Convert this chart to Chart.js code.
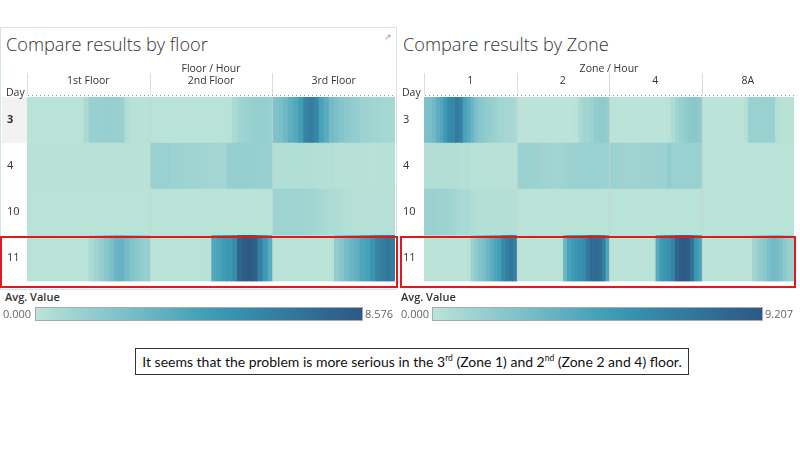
<!DOCTYPE html>
<html>
<head>
<meta charset="utf-8">
<script src="https://cdn.jsdelivr.net/npm/chart.js@4.4.1/dist/chart.umd.min.js"></script>
<style>
body{margin:0;width:800px;height:450px;background:#fff;font-family:"Open Sans",sans-serif;color:#333;position:relative;overflow:hidden}
.abs{position:absolute}
.title{font-size:18.2px;font-weight:300;color:#333;white-space:nowrap}
.legTitle{font-size:11px;font-weight:600;color:#333}
.legNum{font-size:11px;color:#666}
.ramp{height:14px;box-sizing:border-box;border:1px solid #a9a9a9}
.redbox{border:2px solid #e0191c;box-sizing:border-box}
.note{left:135px;top:348px;width:554px;height:27px;box-sizing:border-box;border:1px solid #333;font-family:Lato,sans-serif;font-size:14px;color:#111;text-align:center;line-height:25px;white-space:nowrap}
.note sup{font-size:8.5px;line-height:0}
</style>
</head>
<body>
<div class="abs" style="left:0;top:27px;width:397px;height:263px;box-sizing:border-box;border:1px solid #d3e3f0"></div>
<div class="abs" style="left:384px;top:30px;font-size:9px;color:#999">&#8599;</div>
<div class="abs title" style="left:6px;top:32px">Compare results by floor</div>
<div class="abs title" style="left:403px;top:32px">Compare results by Zone</div>

<div class="abs" style="left:0;top:60px;width:397px;height:228px"><canvas id="floorChart" width="397" height="228"></canvas></div>
<div class="abs" style="left:398px;top:60px;width:398px;height:228px"><canvas id="zoneChart" width="398" height="228"></canvas></div>

<div class="abs redbox" style="left:0;top:236px;width:398px;height:52px"></div>
<div class="abs redbox" style="left:400px;top:236px;width:396px;height:52px"></div>

<div class="abs legTitle" style="left:5px;top:289px">Avg. Value</div>
<div class="abs legNum" style="left:3px;top:306px">0.000</div>
<div class="abs ramp" id="ramp1" style="left:35px;top:307px;width:328px"></div>
<div class="abs legNum" style="left:365px;top:306px">8.576</div>

<div class="abs legTitle" style="left:401px;top:289px">Avg. Value</div>
<div class="abs legNum" style="left:401px;top:306px">0.000</div>
<div class="abs ramp" id="ramp2" style="left:432px;top:307px;width:331px"></div>
<div class="abs legNum" style="left:765px;top:306px">9.207</div>

<div class="abs note">It seems that the problem is more serious in the 3<sup>rd</sup> (Zone 1) and 2<sup>nd</sup> (Zone 2 and 4) floor.</div>

<script>
// rows and hours
const days = ['3', '4', '10', '11'];
const hours = [0,1,2,3,4,5,6,7,8,9,10,11,12,13,14,15,16,17,18,19,20,21,22,23];

// left chart: Floor / Hour
const floors = ['1st Floor', '2nd Floor', '3rd Floor'];
const floorMax = 8.576;
const floor1 = [
  [0.05,0.05,0.05,0.05,0.05,0.05,0.05,0.05,0.05,0.05,0.05,0.6,1.2,1.2,1.25,1.3,1.3,1.25,1.2,0.4,0.15,0.1,0.1,0.1],
  [0.12,0.12,0.1,0.1,0.1,0.1,0.1,0.1,0.1,0.1,0.1,0.1,0.1,0.1,0.1,0.1,0.1,0.1,0.1,0.1,0.1,0.1,0.1,0.1],
  [0.05,0.05,0.05,0.05,0.05,0.05,0.05,0.05,0.05,0.05,0.05,0.05,0.05,0.05,0.05,0.05,0.05,0.05,0.05,0.05,0.05,0.05,0.05,0.05],
  [0.05,0.05,0.05,0.05,0.05,0.05,0.05,0.05,0.05,0.05,0.05,0.05,0.6,1.0,1.4,1.9,2.4,3.0,3.1,2.6,2.1,1.8,1.5,1.3]
];
const floor2 = [
  [0.05,0.05,0.05,0.05,0.05,0.05,0.05,0.05,0.05,0.05,0.05,0.05,0.05,0.05,0.05,0.1,0.6,0.9,1.1,1.2,1.3,1.35,1.3,1.2],
  [1.2,1.2,1.15,1.15,1.1,1.1,1.05,1.0,1.0,0.95,0.9,0.85,0.85,0.8,0.85,1.3,1.35,1.35,1.3,1.3,1.3,1.25,1.25,1.2],
  [0.05,0.05,0.05,0.05,0.05,0.05,0.05,0.05,0.05,0.05,0.05,0.05,0.05,0.05,0.05,0.05,0.05,0.05,0.05,0.05,0.05,0.05,0.05,0.05],
  [0.05,0.05,0.05,0.05,0.05,0.05,0.05,0.05,0.05,0.05,0.05,0.1,3.8,4.2,4.6,4.9,5.5,7.8,8.4,8.576,8.2,6.2,4.8,3.6]
];
const floor3 = [
  [2.2,2.4,2.8,3.4,3.8,4.5,6.0,6.4,5.8,4.2,3.6,2.6,2.3,2.0,1.7,1.5,1.4,1.1,1.0,0.9,0.9,0.8,0.8,0.7],
  [0.35,0.35,0.35,0.35,0.35,0.35,0.35,0.35,0.3,0.3,0.3,0.3,0.15,0.15,0.15,0.15,0.15,0.15,0.15,0.15,0.15,0.15,0.15,0.15],
  [1.0,1.0,1.05,1.05,1.0,1.0,0.95,0.9,0.8,0.7,0.6,0.5,0.45,0.4,0.3,0.25,0.2,0.2,0.2,0.2,0.2,0.2,0.2,0.2],
  [0.05,0.05,0.05,0.05,0.05,0.05,0.05,0.05,0.05,0.05,0.05,0.1,1.5,2.0,2.6,3.0,3.3,4.0,4.3,5.0,6.0,6.3,6.8,6.5]
];

// right chart: Zone / Hour
const zones = ['1', '2', '4', '8A'];
const zoneMax = 9.207;
const zone1 = [
  [2.4,2.6,3.0,3.8,4.2,5.2,6.0,6.3,7.0,6.5,4.6,4.0,3.2,2.4,2.0,1.8,1.6,1.4,1.2,1.0,0.9,0.8,0.8,0.7],
  [0.35,0.35,0.35,0.35,0.35,0.35,0.35,0.35,0.35,0.3,0.3,0.3,0.15,0.15,0.15,0.15,0.15,0.15,0.15,0.15,0.15,0.15,0.15,0.15],
  [1.2,1.25,1.25,1.2,1.2,1.15,1.1,1.0,0.8,0.7,0.7,0.6,0.4,0.3,0.3,0.3,0.3,0.3,0.3,0.3,0.3,0.3,0.3,0.3],
  [0.05,0.05,0.05,0.05,0.05,0.05,0.05,0.05,0.05,0.05,0.05,0.1,1.2,1.8,2.2,2.6,3.2,3.8,4.3,4.8,6.0,6.8,7.2,6.8]
];
const zone2 = [
  [0.05,0.05,0.05,0.05,0.05,0.05,0.05,0.05,0.05,0.05,0.05,0.05,0.05,0.05,0.05,0.1,0.6,0.9,1.0,1.2,1.6,1.7,1.7,1.5],
  [1.3,1.3,1.25,1.2,1.2,1.15,1.1,1.1,1.05,1.0,1.0,1.05,1.1,1.2,1.3,1.3,1.3,1.25,1.3,1.3,1.3,1.25,1.2,1.2],
  [0.08,0.08,0.08,0.08,0.08,0.08,0.08,0.08,0.08,0.08,0.08,0.08,0.08,0.08,0.08,0.08,0.08,0.08,0.08,0.08,0.08,0.08,0.08,0.08],
  [0.05,0.05,0.05,0.05,0.05,0.05,0.05,0.05,0.05,0.05,0.05,0.1,3.2,4.6,5.0,5.4,5.6,6.0,7.2,8.0,8.2,7.8,6.8,4.2]
];
const zone4 = [
  [0.05,0.05,0.05,0.05,0.05,0.05,0.05,0.05,0.05,0.05,0.05,0.05,0.05,0.05,0.05,0.1,0.5,1.0,1.3,1.5,1.8,1.9,1.9,1.7],
  [1.2,1.2,1.15,1.15,1.1,1.1,1.1,1.1,1.1,1.15,1.15,1.15,1.2,1.2,1.2,1.6,1.3,1.3,1.3,1.3,1.3,1.3,1.25,1.2],
  [0.08,0.08,0.08,0.08,0.08,0.08,0.08,0.08,0.08,0.08,0.08,0.08,0.08,0.08,0.08,0.08,0.08,0.08,0.08,0.08,0.08,0.08,0.08,0.08],
  [0.05,0.05,0.05,0.05,0.05,0.05,0.05,0.05,0.05,0.05,0.05,0.1,4.0,5.0,5.4,5.6,6.5,8.4,9.0,9.207,8.8,7.5,5.2,4.6]
];
const zone8A = [
  [0.05,0.05,0.05,0.05,0.05,0.05,0.05,0.05,0.05,0.05,0.05,0.3,1.3,1.3,1.3,1.3,1.3,1.3,1.3,0.3,0.1,0.1,0.1,0.1],
  [0.08,0.08,0.08,0.08,0.08,0.08,0.08,0.08,0.08,0.08,0.08,0.08,0.08,0.08,0.08,0.08,0.08,0.08,0.08,0.08,0.08,0.08,0.08,0.08],
  [0.08,0.08,0.08,0.08,0.08,0.08,0.08,0.08,0.08,0.08,0.08,0.08,0.08,0.08,0.08,0.08,0.08,0.08,0.08,0.08,0.08,0.08,0.08,0.08],
  [0.05,0.05,0.05,0.05,0.05,0.05,0.05,0.05,0.05,0.05,0.05,0.05,0.05,0.9,1.3,1.7,2.0,2.6,2.9,2.8,2.5,1.8,1.4,1.2]
];

// Tableau blue-teal ramp
const palette = ['#bce4d8','#aedcd5','#a1d5d2','#95cecf','#89c8cc','#7ec1ca','#72bac6','#66b2c2','#59acbe','#4ba5ba',
  '#419eb6','#3b96b2','#358ead','#3586a7','#347ea1','#32779b','#316f96','#2f6790','#2d608a','#2c5985'];

function hexRgb(h) {
  return [parseInt(h.substr(1,2),16), parseInt(h.substr(3,2),16), parseInt(h.substr(5,2),16)];
}

function rampColor(t) {
  t = Math.max(0, Math.min(1, t));
  const p = t * (palette.length - 1);
  const i = Math.min(Math.floor(p), palette.length - 2);
  const f = p - i;
  const a = hexRgb(palette[i]), b = hexRgb(palette[i + 1]);
  const c = a.map((v, k) => Math.round(v + (b[k] - v) * f));
  return 'rgb(' + c.join(',') + ')';
}

document.getElementById('ramp1').style.background = 'linear-gradient(to right,' + palette.join(',') + ')';
document.getElementById('ramp2').style.background = 'linear-gradient(to right,' + palette.join(',') + ')';

// header, column lines, dotted line
const headerPlugin = {
  id: 'header',
  beforeDraw(chart) {
    const o = chart.options.plugins.header;
    const ctx = chart.ctx, a = chart.chartArea;
    if (o.shadeFirst) {
      const band = (a.bottom - a.top) / days.length;
      ctx.save();
      ctx.fillStyle = '#f2f2f2';
      ctx.fillRect(2, a.top, a.left - 2, band);
      ctx.restore();
    }
  },
  afterDraw(chart) {
    const o = chart.options.plugins.header;
    const ctx = chart.ctx, a = chart.chartArea, x = chart.scales.x;
    ctx.save();
    ctx.fillStyle = '#333';
    ctx.textAlign = 'center';
    ctx.textBaseline = 'middle';
    ctx.font = '10.5px "Open Sans"';
    ctx.fillText(o.title, (a.left + a.right) / 2, 9);
    o.cols.forEach((name, c) => {
      const x0 = x.getPixelForValue(c * 24), x1 = x.getPixelForValue((c + 1) * 24);
      ctx.fillText(name, (x0 + x1) / 2, 21);
      ctx.strokeStyle = '#dcdcdc';
      ctx.lineWidth = 1;
      ctx.beginPath();
      ctx.moveTo(Math.round(x0) + 0.5, 13);
      ctx.lineTo(Math.round(x0) + 0.5, a.top - 2);
      ctx.stroke();
      if (c > 0) {
        ctx.strokeStyle = 'rgba(200,210,208,0.7)';
        ctx.beginPath();
        ctx.moveTo(Math.round(x0) + 0.5, a.top);
        ctx.lineTo(Math.round(x0) + 0.5, a.bottom);
        ctx.stroke();
      }
    });
    ctx.textAlign = 'left';
    ctx.fillText('Day', o.dayX, 33);
    ctx.fillStyle = '#999';
    for (let px = a.left + 1; px < a.right; px += 4) {
      ctx.fillRect(px, a.top - 2, 1, 1);
    }
    ctx.restore();
  }
};

function makeChart(id, cols, values, max, title, padLeft, axisWidth, shadeFirst) {
  const datasets = [];
  values.forEach((col, c) => {
    hours.forEach(h => {
      datasets.push({
        data: days.map(() => [c * 24 + h, c * 24 + h + 1]),
        backgroundColor: days.map((d, r) => rampColor(col[r][h] / max)),
        borderWidth: 0,
        barPercentage: 1,
        categoryPercentage: 1,
        grouped: false
      });
    });
  });
  return new Chart(document.getElementById(id), {
    type: 'bar',
    data: { labels: days, datasets: datasets },
    options: {
      indexAxis: 'y',
      responsive: false,
      animation: false,
      layout: { padding: { top: 37, left: padLeft, right: 2, bottom: 3 } },
      plugins: {
        legend: { display: false },
        tooltip: { enabled: false },
        header: { title: title, cols: cols, dayX: padLeft - 1, shadeFirst: shadeFirst }
      },
      scales: {
        x: { type: 'linear', min: 0, max: cols.length * 24, display: false },
        y: {
          type: 'category',
          grid: { display: false },
          border: { display: false },
          ticks: {
            color: '#333',
            padding: 0,
            crossAlign: 'far',
            font: ctx => ({ family: 'Open Sans', size: 11, weight: (shadeFirst && ctx.index === 0) ? 'bold' : 'normal' })
          },
          afterFit: scale => { scale.width = axisWidth; }
        }
      }
    },
    plugins: [headerPlugin]
  });
}

makeChart('floorChart', floors, [floor1, floor2, floor3], floorMax, 'Floor / Hour', 7, 20, true);
makeChart('zoneChart', zones, [zone1, zone2, zone4, zone8A], zoneMax, 'Zone / Hour', 5, 21, false);
</script>
</body>
</html>
